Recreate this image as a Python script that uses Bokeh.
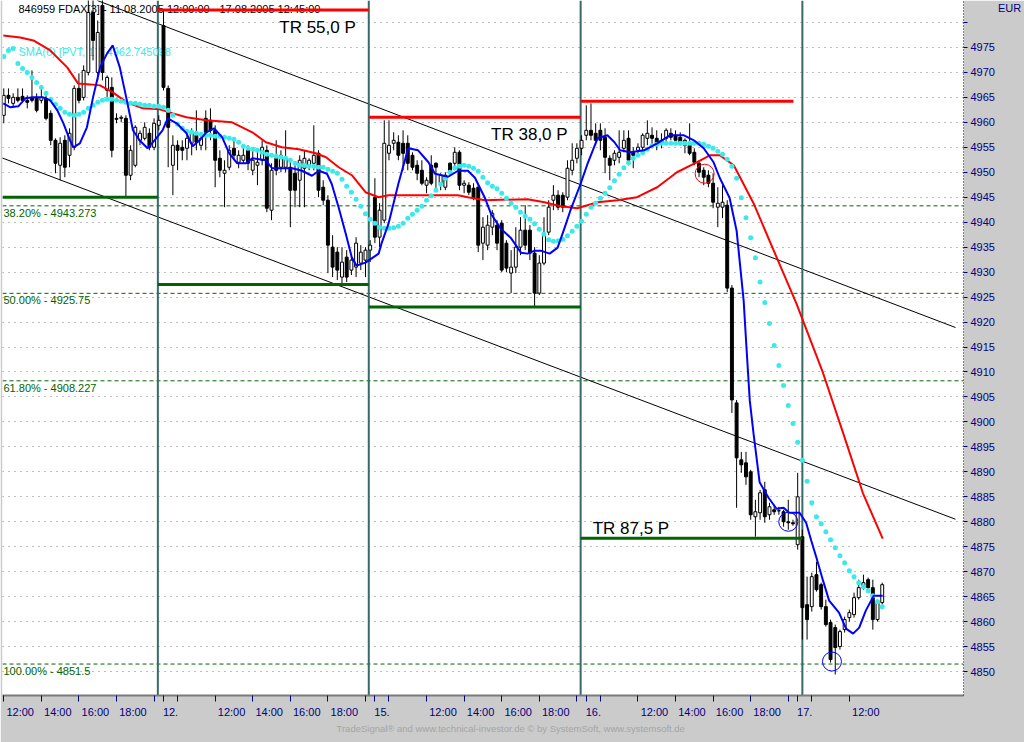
import numpy as np
from bokeh.plotting import figure
from bokeh.models import Range1d, LinearAxis, FixedTicker, Span, Title
from bokeh.core.properties import value
from bokeh.embed import file_html
from bokeh.resources import INLINE

# ---------------- data ----------------
# x = bar index of 15-minute bars, 45 bars per session (09:00 .. 20:00); session 0 = 11.08.2005
first_bar = 12
bars_per_day = 45

opens = [
    4961.4, 4965.4, 4963.8, 4965.0, 4965.2, 4964.4, 4965.0, 4965.0, 4964.4, 4964.8, 4961.8, 4956.4, 4951.4, 4956.4, 4953.4, 4955.0, 4966.8, 4965.0, 4970.0, 4982.0, 4970.0, 4983.4, 4966.4, 4967.0, 4960.8, 4960.8, 4960.8, 4949.4, 4951.4, 4956.4, 4956.8, 4957.8, 4955.0,
    4959.4, 4979.4, 4966.8, 4951.4, 4955.4, 4955.0, 4954.8, 4955.8, 4957.4, 4955.4, 4960.8, 4960.4, 4958.4, 4952.8, 4949.8, 4951.0, 4954.8, 4952.0, 4952.4, 4954.4, 4950.4, 4951.4, 4952.4, 4954.4, 4942.4, 4952.8, 4951.0, 4951.0, 4951.0, 4949.8, 4948.4, 4950.8, 4951.4, 4951.8, 4953.8, 4947.0, 4944.4, 4935.0, 4934.0, 4929.0, 4933.0, 4930.4, 4931.0, 4931.8, 4932.4,
    4934.4, 4945.0, 4937.0, 4940.4, 4953.8, 4955.8, 4956.0, 4955.8, 4955.8, 4953.4, 4951.4, 4950.4, 4947.4, 4951.4, 4951.8, 4947.8, 4947.0, 4951.8, 4951.8, 4954.0, 4947.4, 4947.4, 4946.8, 4947.0, 4935.8, 4935.4, 4939.0, 4939.4, 4939.8, 4935.8, 4929.8, 4931.0, 4935.0, 4938.4, 4938.4, 4933.8, 4925.8, 4931.8, 4938.0, 4944.4, 4945.4, 4945.4, 4945.0, 4950.4, 4952.8,
    4954.8, 4957.4, 4958.4, 4957.8, 4958.4, 4957.0, 4952.8, 4952.4, 4953.0, 4954.8, 4956.8, 4954.0, 4954.4, 4955.0, 4956.8, 4957.4, 4956.8, 4955.8, 4956.8, 4957.8, 4957.4, 4957.0, 4956.4, 4955.4, 4954.0, 4951.8, 4950.4, 4949.4, 4947.8, 4943.0, 4943.0, 4943.4, 4926.8, 4903.8, 4892.4, 4891.8, 4890.0, 4881.0, 4881.8, 4886.4, 4881.4, 4882.4, 4882.2, 4882.0, 4880.0,
    4879.8, 4875.4, 4877.0, 4863.4, 4863.0, 4869.4, 4867.4, 4863.0, 4859.8, 4858.8, 4855.0, 4858.4, 4860.8, 4861.4, 4864.8, 4866.8, 4868.4, 4866.8, 4860.4, 4863.8,
]
highs = [
    4966.8, 4966.8, 4965.8, 4966.8, 4966.8, 4965.4, 4970.4, 4965.8, 4967.4, 4965.4, 4962.4, 4956.8, 4957.0, 4957.4, 4958.8, 4967.4, 4969.8, 4971.4, 4986.0, 4985.0, 4980.4, 4986.0, 4969.4, 4969.0, 4961.8, 4961.4, 4961.4, 4955.4, 4959.4, 4958.4, 4960.0, 4958.8, 4960.8,
    4961.4, 4982.4, 4967.4, 4957.4, 4956.4, 4956.4, 4958.0, 4958.8, 4962.4, 4957.4, 4962.4, 4962.8, 4959.4, 4954.4, 4952.4, 4955.4, 4956.4, 4954.4, 4955.4, 4955.4, 4954.4, 4954.4, 4956.4, 4955.4, 4951.8, 4956.4, 4954.4, 4958.4, 4952.4, 4951.4, 4953.4, 4954.4, 4952.8, 4959.4, 4954.4, 4948.4, 4945.4, 4937.4, 4935.0, 4935.0, 4934.4, 4933.4, 4937.0, 4935.4, 4935.0,
    4936.4, 4948.8, 4943.8, 4960.4, 4960.4, 4958.0, 4957.4, 4958.4, 4957.4, 4954.0, 4952.4, 4952.4, 4949.0, 4953.4, 4952.0, 4949.8, 4950.0, 4952.0, 4955.0, 4954.4, 4948.4, 4948.0, 4947.8, 4947.8, 4941.0, 4941.4, 4942.4, 4940.4, 4940.4, 4936.4, 4934.4, 4939.0, 4941.0, 4943.4, 4939.4, 4935.0, 4933.4, 4941.0, 4944.4, 4947.4, 4946.4, 4946.0, 4952.4, 4955.8, 4955.8,
    4957.4, 4963.4, 4963.8, 4959.8, 4959.8, 4958.8, 4953.4, 4954.4, 4958.4, 4958.4, 4958.4, 4955.0, 4955.8, 4957.8, 4960.4, 4959.0, 4958.4, 4957.8, 4958.8, 4958.8, 4958.4, 4958.0, 4956.8, 4959.8, 4954.8, 4952.4, 4951.0, 4950.4, 4949.8, 4947.0, 4947.4, 4944.4, 4927.4, 4904.4, 4894.0, 4894.0, 4890.4, 4884.4, 4886.4, 4888.0, 4883.8, 4883.4, 4883.0, 4882.4, 4884.4,
    4880.4, 4889.8, 4878.4, 4869.0, 4869.8, 4872.0, 4867.8, 4864.4, 4860.4, 4859.4, 4858.4, 4861.0, 4862.4, 4865.8, 4868.4, 4869.4, 4868.8, 4868.4, 4864.4, 4867.8,
]
lows = [
    4959.8, 4963.8, 4963.0, 4964.0, 4964.2, 4962.8, 4964.0, 4962.0, 4963.8, 4960.4, 4955.4, 4949.8, 4948.4, 4949.0, 4951.0, 4954.4, 4963.8, 4964.4, 4969.4, 4972.4, 4968.4, 4968.4, 4964.4, 4953.0, 4959.8, 4960.0, 4945.0, 4948.4, 4951.0, 4955.4, 4956.4, 4954.4, 4954.4,
    4958.4, 4966.4, 4951.0, 4945.4, 4950.4, 4952.4, 4952.4, 4953.4, 4954.4, 4954.4, 4954.4, 4956.4, 4947.0, 4949.0, 4943.0, 4950.4, 4952.4, 4950.8, 4951.8, 4950.4, 4949.4, 4947.4, 4951.4, 4942.0, 4940.4, 4949.4, 4950.0, 4950.0, 4939.0, 4943.0, 4943.0, 4943.0, 4950.4, 4950.4, 4945.0, 4943.4, 4929.8, 4929.0, 4928.4, 4927.4, 4928.0, 4929.4, 4929.0, 4930.4, 4929.0,
    4932.0, 4935.8, 4935.0, 4939.8, 4952.4, 4954.4, 4952.4, 4950.4, 4950.4, 4950.4, 4948.4, 4947.4, 4945.8, 4947.4, 4946.4, 4946.4, 4946.4, 4949.4, 4950.4, 4946.4, 4945.8, 4945.4, 4944.4, 4934.0, 4932.4, 4934.4, 4937.4, 4934.4, 4930.0, 4930.0, 4925.8, 4929.8, 4933.4, 4934.4, 4932.4, 4923.0, 4925.4, 4931.4, 4937.4, 4942.4, 4942.4, 4942.0, 4944.4, 4949.4, 4951.8,
    4953.4, 4956.4, 4956.4, 4955.4, 4954.4, 4949.8, 4948.4, 4951.4, 4951.8, 4954.0, 4951.4, 4950.8, 4953.4, 4954.4, 4955.4, 4954.8, 4954.4, 4954.8, 4955.8, 4956.4, 4955.8, 4955.4, 4953.8, 4953.4, 4951.4, 4949.0, 4947.4, 4947.0, 4942.8, 4939.0, 4940.8, 4926.0, 4901.8, 4882.8, 4889.8, 4887.4, 4880.4, 4877.0, 4880.4, 4879.8, 4880.4, 4881.4, 4881.4, 4879.0, 4878.4,
    4879.2, 4874.4, 4856.4, 4856.4, 4862.0, 4866.0, 4862.4, 4859.0, 4851.8, 4849.4, 4854.4, 4857.8, 4860.0, 4860.8, 4864.4, 4866.4, 4866.0, 4858.4, 4860.0, 4863.4,
]
closes = [
    4965.4, 4964.8, 4965.0, 4964.4, 4964.4, 4964.0, 4964.4, 4962.4, 4965.0, 4960.8, 4956.4, 4951.8, 4955.8, 4951.0, 4957.8, 4966.8, 4964.4, 4970.4, 4982.0, 4976.4, 4978.0, 4970.0, 4969.0, 4954.4, 4960.6, 4961.0, 4949.4, 4954.4, 4959.0, 4957.8, 4959.0, 4955.0, 4959.8,
    4960.4, 4967.0, 4959.0, 4955.4, 4954.4, 4954.4, 4956.8, 4957.8, 4956.0, 4956.8, 4958.0, 4958.4, 4952.4, 4950.4, 4950.4, 4954.4, 4953.4, 4953.4, 4953.4, 4951.8, 4952.4, 4952.0, 4955.0, 4942.8, 4950.4, 4950.4, 4953.4, 4953.0, 4946.4, 4946.4, 4952.4, 4952.8, 4952.4, 4953.4, 4946.4, 4944.4, 4935.4, 4931.0, 4930.4, 4932.0, 4929.0, 4932.4, 4935.8, 4934.0, 4934.4,
    4935.4, 4937.0, 4942.4, 4955.8, 4955.4, 4956.4, 4953.4, 4953.8, 4951.8, 4951.0, 4949.8, 4947.8, 4948.4, 4947.8, 4951.0, 4949.4, 4949.4, 4950.0, 4954.0, 4947.4, 4947.8, 4946.0, 4944.8, 4935.4, 4939.0, 4939.4, 4941.8, 4935.8, 4930.4, 4930.8, 4931.0, 4935.0, 4938.4, 4935.4, 4933.8, 4925.8, 4931.8, 4937.8, 4943.0, 4945.4, 4943.0, 4943.0, 4950.8, 4952.4, 4954.8,
    4956.4, 4958.4, 4957.4, 4956.4, 4956.4, 4953.0, 4951.4, 4953.8, 4954.0, 4956.4, 4952.4, 4953.4, 4955.0, 4957.4, 4957.8, 4956.8, 4955.8, 4956.4, 4958.4, 4957.0, 4956.4, 4956.0, 4955.4, 4953.8, 4952.0, 4950.0, 4949.0, 4947.8, 4944.0, 4943.8, 4944.0, 4926.8, 4904.4, 4892.8, 4891.4, 4889.0, 4881.4, 4882.0, 4885.8, 4881.0, 4883.0, 4882.0, 4882.2, 4880.0, 4879.8,
    4879.6, 4885.0, 4862.8, 4860.4, 4869.0, 4866.4, 4863.0, 4859.4, 4852.4, 4854.8, 4858.0, 4860.4, 4861.8, 4864.8, 4866.8, 4867.8, 4866.8, 4860.4, 4863.8, 4867.4,
]

# SMA(6)[PVT, 17] - one dot per bar
pvt_sma = [
    4973.2, 4974.4, 4974.8, 4971.8, 4970.8, 4970.0, 4969.0, 4968.0, 4967.0, 4965.8, 4964.6, 4963.6, 4962.8, 4962.0, 4961.6, 4961.4, 4961.6, 4962.0, 4962.8, 4963.4, 4964.0, 4964.4, 4964.6, 4964.6, 4964.4, 4964.2, 4964.0, 4963.8, 4963.8, 4963.6, 4963.4, 4963.4, 4963.2,
    4963.2, 4963.0, 4962.4, 4961.4, 4959.6, 4958.8, 4958.2, 4958.0, 4957.8, 4957.6, 4957.4, 4957.4, 4957.2, 4957.2, 4957.0, 4956.8, 4956.6, 4956.0, 4955.2, 4954.8, 4954.6, 4954.4, 4954.0, 4953.6, 4953.4, 4953.2, 4953.0, 4952.8, 4952.4, 4951.8, 4951.4, 4951.4, 4951.2, 4951.2, 4951.0, 4951.0, 4950.6, 4950.2, 4949.8, 4948.6, 4947.2, 4946.0, 4944.6, 4943.2, 4941.7,
    4940.6, 4939.8, 4939.0, 4938.8, 4938.8, 4938.9, 4939.2, 4939.8, 4940.8, 4941.6, 4942.4, 4943.2, 4944.4, 4945.3, 4946.4, 4947.6, 4948.8, 4950.0, 4950.9, 4951.2, 4951.4, 4951.2, 4950.8, 4950.2, 4949.0, 4947.9, 4947.2, 4946.7, 4945.8, 4944.8, 4943.8, 4943.0, 4942.0, 4941.2, 4940.6, 4939.7, 4938.6, 4937.6, 4936.5, 4936.2, 4936.3, 4936.6, 4937.3, 4938.2, 4939.2,
    4940.2, 4941.6, 4943.0, 4943.8, 4944.8, 4945.8, 4946.9, 4948.3, 4949.6, 4950.9, 4951.9, 4952.8, 4953.4, 4953.9, 4954.6, 4955.3, 4955.6, 4955.8, 4955.8, 4955.8, 4955.8, 4955.8, 4955.8, 4955.8, 4955.8, 4955.8, 4955.6, 4955.2, 4954.8, 4954.2, 4953.6, 4952.6, 4951.2, 4948.8, 4944.9, 4940.9, 4936.9, 4932.9, 4928.0, 4923.9, 4919.7, 4915.3, 4911.3, 4907.3, 4903.3,
    4899.7, 4895.9, 4892.3, 4888.1, 4883.8, 4881.0, 4879.6, 4878.0, 4876.4, 4874.8, 4873.2, 4871.8, 4870.2, 4869.0, 4867.8, 4867.0, 4866.2, 4865.2, 4864.0, 4863.0,
]

# slow moving average (red) read at these bars
red_x = [11.9, 15.5, 18.3, 21.9, 25.5, 27.8, 30.4, 32.5, 35.2, 38.2, 41.6, 45.2, 48.0, 50.9, 55.1, 60.6, 64.9, 67.8, 71.2, 74.8,
         78.4, 80.6, 83.3, 86.1, 89.0, 91.8, 93.9, 100.2, 108.7, 110.8, 114.4, 123.5, 127.1, 130.5, 134.1, 138.4, 142.6, 146.8,
         151.1, 155.3, 159.5, 162.3, 164.4, 167.4, 171.6, 176.5, 180.7, 186.4, 190.7, 194.9, 199.1]
red_y = [4977.4, 4977.0, 4976.4, 4974.4, 4971.0, 4967.8, 4967.6, 4967.4, 4966.0, 4964.0, 4962.8, 4962.6, 4961.8, 4961.0, 4960.4,
         4960.0, 4958.0, 4956.0, 4955.0, 4954.6, 4953.8, 4953.0, 4951.0, 4949.4, 4946.0, 4945.0, 4945.4, 4945.4, 4945.4, 4945.0,
         4944.4, 4944.6, 4944.0, 4943.2, 4942.8, 4944.0, 4944.4, 4945.0, 4947.0, 4950.0, 4952.0, 4953.4, 4953.4, 4951.4, 4943.8,
         4933.0, 4923.8, 4909.8, 4897.7, 4885.7, 4876.6]

# fast moving average (blue) read at these bars
blue_x = [11.9, 13.4, 15.1, 16.6, 18.3, 20.4, 21.9, 23.4, 24.7, 26.1, 26.8, 28.2, 29.7, 31.0, 32.5, 34.0, 35.2, 36.7, 38.2, 39.5,
          40.9, 42.6, 44.1, 45.8, 46.9, 48.8, 50.9, 52.2, 53.7, 55.1, 56.8, 58.5, 60.0, 61.7, 63.6, 64.9, 67.8, 69.1, 71.2, 73.4,
          75.5, 77.6, 79.1, 80.8, 81.8, 83.3, 84.8, 86.1, 87.1, 89.0, 91.8, 92.4, 93.9, 96.0, 98.1, 100.2, 102.4, 103.8, 106.6,
          108.7, 110.8, 112.3, 114.4, 115.7, 117.8, 119.9, 122.1, 123.5, 125.0, 126.3, 128.2, 129.9, 131.4, 132.6, 134.8, 136.3,
          138.4, 140.5, 142.0, 143.2, 145.4, 148.3, 151.1, 153.8, 156.8, 158.9, 161.0, 163.1, 164.4, 166.5, 168.0, 169.5, 170.1,
          170.8, 171.6, 172.9, 174.8, 176.5, 178.0, 179.2, 181.4, 182.8, 183.9, 185.0, 186.4, 187.7, 189.8, 191.3, 192.8, 194.1,
          195.5, 197.2, 199.1]
blue_y = [4963.8, 4963.0, 4963.2, 4964.8, 4965.0, 4965.0, 4964.4, 4962.4, 4959.8, 4956.4, 4955.0, 4955.8, 4959.0, 4965.0, 4971.0,
          4973.8, 4975.4, 4971.0, 4964.4, 4958.4, 4956.4, 4954.8, 4956.4, 4958.4, 4960.8, 4959.8, 4957.8, 4955.2, 4956.4, 4958.0,
          4958.8, 4957.0, 4953.8, 4951.8, 4951.8, 4952.8, 4952.4, 4950.8, 4950.8, 4950.8, 4950.3, 4949.3, 4950.3, 4949.7, 4947.7,
          4942.9, 4937.7, 4932.9, 4931.3, 4931.9, 4933.7, 4935.7, 4939.7, 4947.7, 4954.8, 4954.4, 4952.0, 4949.7, 4949.1, 4950.3,
          4950.3, 4948.9, 4944.9, 4941.7, 4938.7, 4936.9, 4933.9, 4933.7, 4934.3, 4934.3, 4933.7, 4934.9, 4938.9, 4942.3, 4947.7,
          4951.8, 4956.8, 4957.4, 4956.0, 4954.4, 4954.0, 4954.4, 4955.8, 4957.4, 4957.4, 4956.4, 4954.8, 4952.0, 4948.9, 4944.9,
          4938.3, 4924.3, 4914.9, 4904.3, 4897.7, 4887.9, 4884.8, 4882.6, 4882.8, 4881.8, 4881.8, 4879.8, 4876.2, 4872.8, 4868.2,
          4864.2, 4861.8, 4858.6, 4857.6, 4858.8, 4862.2, 4865.2, 4865.2]

fib_pct = [38.20, 50.00, 61.80, 100.00]
fib_level = [4943.273, 4925.75, 4908.227, 4851.5]

# trading ranges per session (high line red, low line green)
range_start = [11.73, 44.8, 89.7, 134.8]
range_end = [44.8, 89.7, 134.8, 182.0]
range_high_end = [None, 89.7, 134.8, 180.1]
range_high = [None, 4982.5, 4961.0, 4964.2]
range_low = [4945.0, 4927.5, 4923.0, 4876.7]
range_label_side = [None, "below_high", "below_high", "above_low"]

session_marks = [44.8, 89.7, 134.8, 182.0]

channel_upper_x = [31.9, 214.6]
channel_upper_y = [4984.4, 4918.9]
channel_lower_x = [11.3, 214.6]
channel_lower_y = [4953.0, 4880.5]

signal_x = [161.2, 179.0, 188.3]
signal_y = [4949.7, 4880.0, 4852.0]
signal_color = ["#ff0000", "#0000ff", "#0000ff"]

day_names = ["11.", "12.", "15.", "16.", "17."]
hour_names = ["10:00", "12:00", "14:00", "16:00", "18:00", "20:00"]
labelled_hours = ["12:00", "14:00", "16:00", "18:00"]
price_ticks = list(range(4850, 4985, 5))

x_start, x_end = 11.73, 216.3
y_start, y_end = 4845.2, 4984.4
last_bar = first_bar + len(opens) - 1

title_text = "846959  FDAX[3] - 11.08.2005 12:00:00 - 17.08.2005 12:45:00"
ind_text = "SMA(6) [PVT, 17] 4962.745098"
footer_text = "TradeSignal\u00ae and www.technical-investor.de \u00a9 by  SystemSoft, www.systemsoft.de"
currency = "EUR"

FONT = value("Liberation Sans")
NAVY = "#000080"
GREEN = "#006400"
TEAL = "#356b6b"
CYAN = "#3aeaea"

# ---------------- figure ----------------
p = figure(width=1024, height=742, x_range=Range1d(x_start, x_end), y_range=Range1d(y_start, y_end),
           x_axis_location=None, y_axis_location="right", output_backend="svg", toolbar_location=None,
           min_border_left=2, min_border_right=56, min_border_top=0, min_border_bottom=47,
           background_fill_color="white", border_fill_color="#cbcbcb", outline_line_color=None)

ya = p.yaxis[0]
ya.ticker = FixedTicker(ticks=price_ticks)
ya.major_label_overrides = {4980: ""}
ya.axis_line_color = NAVY
ya.axis_line_dash = "1 2"
ya.major_tick_line_color = NAVY
ya.major_tick_out = 4
ya.major_tick_in = 0
ya.minor_tick_line_color = None
ya.major_label_text_color = NAVY
ya.major_label_text_font = "Liberation Sans"
ya.major_label_text_font_size = "11px"
ya.major_label_standoff = 3
try:
    ya.axis_label_align = "end"
    ya.axis_label = "\n" + currency
    ya.axis_label_orientation = "horizontal"
    ya.axis_label_standoff = 0
    ya.axis_label_text_font = "Liberation Sans"
    ya.axis_label_text_font_size = "11px"
    ya.axis_label_text_font_style = "normal"
    ya.axis_label_text_color = NAVY
except Exception:
    pass
p.ygrid.grid_line_color = "#7a7a7a"
p.ygrid.grid_line_dash = "1 5"
p.xgrid.visible = False

# x axis: tick marks at real times (minor), labels just right of them (major, hidden marks)
tick_pos, label_pos, label_txt = [], [], []
for d, dn in enumerate(day_names):
    base = d * bars_per_day
    if base + 1 >= x_start:
        tick_pos.append(base + 1)
        label_pos.append(base + 1 + 1.5)
        label_txt.append(dn)
    for hn in hour_names:
        t = base + (int(hn[:2]) - 9) * 4
        if x_start <= t <= last_bar:
            tick_pos.append(t)
            if hn in labelled_hours:
                label_pos.append(t + 3.5)
                label_txt.append(hn)
xa = LinearAxis(ticker=FixedTicker(ticks=label_pos, minor_ticks=tick_pos),
                major_label_overrides={lp: lt for lp, lt in zip(label_pos, label_txt)},
                major_tick_out=0, major_tick_in=0, minor_tick_out=6, minor_tick_in=0,
                minor_tick_line_color=NAVY, axis_line_color="#7a7a7a", axis_line_width=2,
                major_label_text_color=NAVY, major_label_text_font="Liberation Sans",
                major_label_text_font_size="11px", major_label_standoff=4)
p.add_layout(xa, "below")
p.add_layout(Title(text=footer_text, align="left", offset=334, standoff=1, text_font="Liberation Sans",
                   text_font_size="9.5px", text_font_style="normal", text_color="#a5a5a5"), "below")

# fibonacci levels
for pct, lvl in zip(fib_pct, fib_level):
    p.add_layout(Span(location=lvl, dimension="width", line_color=GREEN, line_dash="4 3", line_width=1,
                      level="underlay"))
p.text(x=[x_start] * len(fib_level), y=fib_level,
       text=[f"{pct:.2f}% - {lvl}" for pct, lvl in zip(fib_pct, fib_level)],
       x_offset=1, y_offset=1, text_baseline="top", text_align="left",
       text_font=FONT, text_font_size="11px", text_color=GREEN)

# channel lines
p.line(channel_upper_x, channel_upper_y, line_color="black", line_width=1)
p.line(channel_lower_x, channel_lower_y, line_color="black", line_width=1)

# session separators
p.segment(x0=session_marks, y0=[y_start] * len(session_marks), x1=session_marks, y1=[y_end] * len(session_marks),
          line_color=TEAL, line_width=2)

# header texts
p.text(x=[x_start], y=[y_end], text=[title_text], x_offset=16, y_offset=2, text_baseline="top",
       text_font=FONT, text_font_size="11px", text_color="black")
p.text(x=[x_start], y=[y_end], text=[ind_text], x_offset=16, y_offset=45, text_baseline="top",
       text_font=FONT, text_font_size="11px", text_color=CYAN)

# candles
xs = np.arange(first_bar, first_bar + len(opens))
o, h, l, c = (np.array(a, dtype=float) for a in (opens, highs, lows, closes))
top_w = np.maximum(h, np.maximum(o, c))
bot_w = np.minimum(l, np.minimum(o, c))
p.segment(x0=xs, y0=bot_w, x1=xs, y1=top_w, line_color="black", line_width=1)
up = c >= o
p.vbar(x=xs[up], width=0.62, top=c[up], bottom=o[up], fill_color="white", line_color="black", line_width=1)
p.vbar(x=xs[~up], width=0.62, top=o[~up], bottom=c[~up], fill_color="black", line_color="black", line_width=1)

# indicators
p.line(red_x, red_y, line_color="#ff0000", line_width=2)
p.scatter(xs, pvt_sma, marker="circle", size=5, fill_color=CYAN, line_color=None)
p.line(blue_x, blue_y, line_color="#0000ff", line_width=2)

# signal circles
p.scatter(signal_x, signal_y, marker="circle", size=19, fill_color=None, line_color=signal_color, line_width=1)

# trading range lines + labels
for s, e, he, hi, lo, side in zip(range_start, range_end, range_high_end, range_high, range_low, range_label_side):
    p.segment(x0=[s], y0=[lo], x1=[e], y1=[lo], line_color=GREEN, line_width=3)
    if hi is not None:
        p.segment(x0=[s], y0=[hi], x1=[he], y1=[hi], line_color="#ff0000", line_width=3)
        txt = "TR " + f"{hi - lo:.1f}".replace(".", ",") + " P"
        if side == "below_high":
            p.text(x=[e], y=[hi], text=[txt], x_offset=-13, y_offset=8, text_baseline="top", text_align="right",
                   text_font=FONT, text_font_size="17px", text_color="black")
        else:
            p.text(x=[s], y=[lo], text=[txt], x_offset=12, y_offset=-10, text_baseline="alphabetic",
                   text_align="left", text_font=FONT, text_font_size="17px", text_color="black")

open("out.html", "w").write(file_html(p, INLINE))
